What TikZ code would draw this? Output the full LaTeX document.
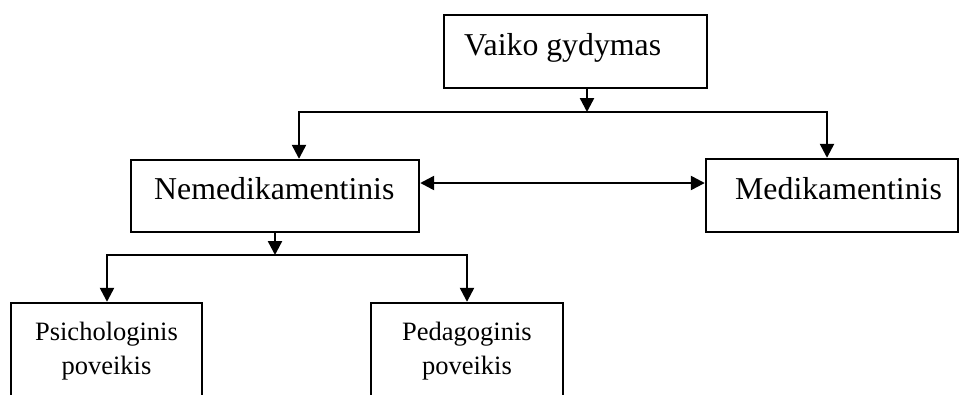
\documentclass[tikz,border=0pt]{standalone}
\usepackage{fontspec}
\setmainfont{Liberation Serif}
\usetikzlibrary{arrows.meta}
\begin{document}
\begin{tikzpicture}[x=1pt,y=-1pt,
  box/.style={draw,line width=2.4pt,rectangle,inner sep=0pt},
  bigtxt/.style={inner sep=0pt,font=\fontsize{31.8}{38}\selectfont},
  smalltxt/.style={inner sep=0pt,anchor=base,font=\fontsize{26.5}{32}\selectfont},
  conn/.style={line width=2.4pt,-{Triangle[length=14pt,width=14pt]}},
  conn2/.style={line width=2.4pt,{Triangle[length=14pt,width=14pt]}-{Triangle[length=14pt,width=14pt]}},
  plain/.style={line width=2.4pt}]
\useasboundingbox (0,0) rectangle (960,394);
\clip (0,0) rectangle (960,394);
% boxes
\node[box,minimum width=263pt,minimum height=73pt] (top) at (575.5,51.5) {};
\node[box,minimum width=288pt,minimum height=72pt] (nem) at (275,196) {};
\node[box,minimum width=252pt,minimum height=73pt] (med) at (832,195.5) {};
\node[box,minimum width=191pt,minimum height=117pt] (ps) at (106.5,361.5) {};
\node[box,minimum width=192pt,minimum height=117pt] (pe) at (467,361.5) {};
% texts
\node[bigtxt,anchor=base west] (ttop) at (464,55.7) {Vaiko gydymas};
\node[bigtxt,anchor=base west] (tnem) at (154,199) {Nemedikamentinis};
\node[bigtxt,anchor=base west] (tmed) at (735,199) {Medikamentinis};
\node[smalltxt] (tps1) at (106.5,340) {Psichologinis};
\node[smalltxt] (tps2) at (106.5,374) {poveikis};
\node[smalltxt] (tpe1) at (467,340) {Pedagoginis};
\node[smalltxt] (tpe2) at (467,374) {poveikis};
% junctions
\coordinate (j1) at (587,112);
\coordinate (a1) at (299,112);
\coordinate (a2) at (827,112);
\coordinate (dy) at (0,183);
\coordinate (j2) at (275,255);
\coordinate (b1) at (107,255);
\coordinate (b2) at (467,255);
% connectors
\draw[conn] (top.south -| j1) -- (j1);
\draw[plain,line cap=rect] (a1) -- (a2);
\draw[conn] (a1) -- (a1 |- nem.north);
\draw[conn] (a2) -- (a2 |- med.north);
\draw[conn2] (nem.east |- dy) -- (med.west |- dy);
\draw[conn] (nem.south) -- (j2);
\draw[plain,line cap=rect] (b1) -- (b2);
\draw[conn] (b1) -- (b1 |- ps.north);
\draw[conn] (b2) -- (b2 |- pe.north);
\end{tikzpicture}
\end{document}
